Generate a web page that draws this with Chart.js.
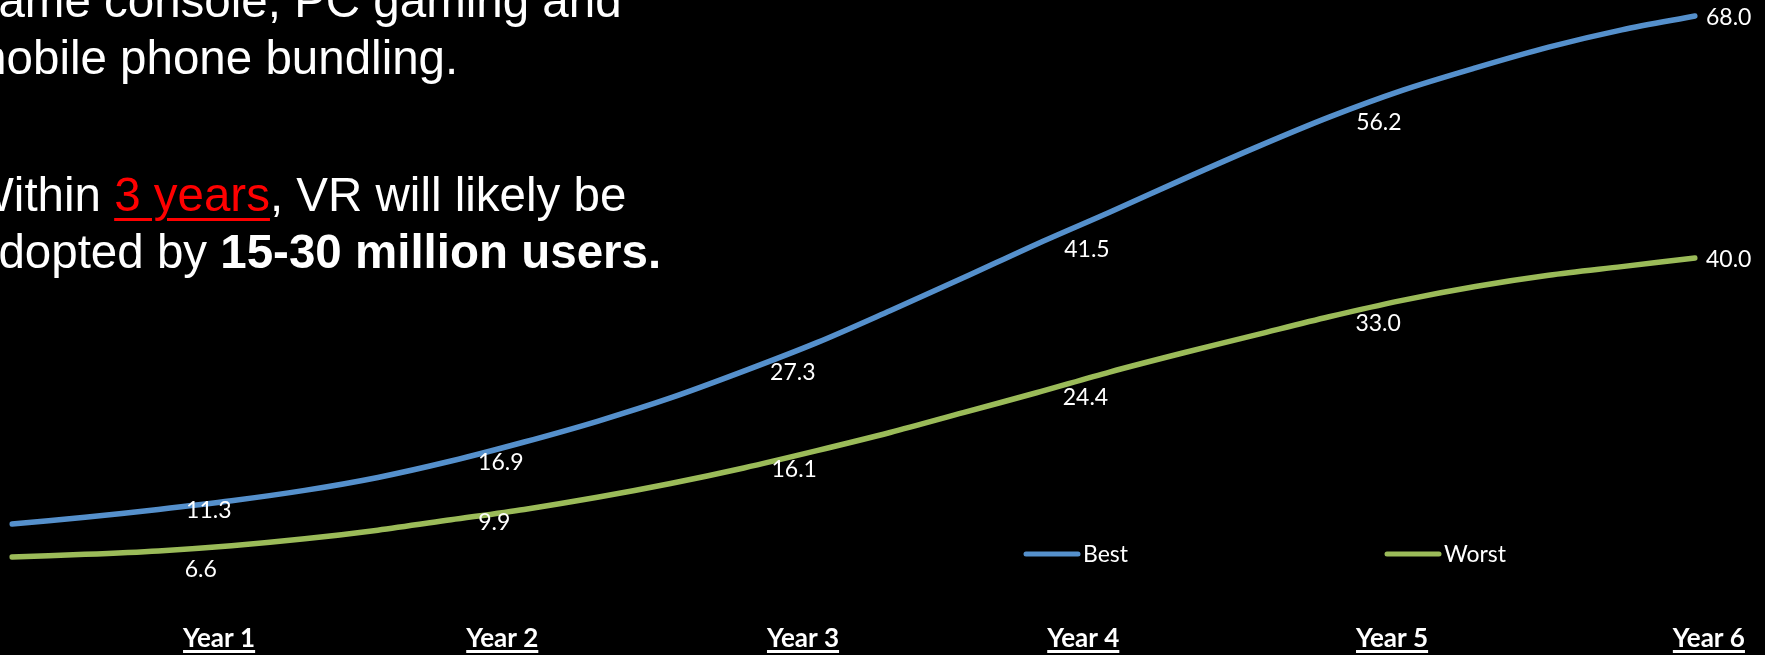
<!DOCTYPE html>
<html>
<head>
<meta charset="utf-8">
<script src="https://cdn.jsdelivr.net/npm/chart.js@4.4.0/dist/chart.umd.min.js"></script>
<style>
  html, body { margin: 0; padding: 0; background: #000; overflow: hidden; }
  #wrap { position: relative; width: 1765px; height: 655px; }
  #chart { position: absolute; left: 0; top: 0; }
  .txt { position: absolute; color: #fff; font-family: "Liberation Sans", Arial, sans-serif;
         font-size: 47.5px; line-height: 57px; white-space: nowrap; margin: 0; }
  .red { color: #ff0000; text-decoration: underline; text-decoration-thickness: 3px; text-underline-offset: 7px; }
</style>
</head>
<body>
<div id="wrap">
  <canvas id="chart" width="1765" height="655"></canvas>
  <div class="txt" style="left:-28px; top:-28px;">game console, PC gaming and</div>
  <div class="txt" style="left:-33px; top:29px;">mobile phone bundling.</div>
  <div class="txt" style="left:-31px; top:166px;">Within <span class="red">3 years</span>, VR will likely be</div>
  <div class="txt" style="left:-28px; top:223px;">adopted by <b>15-30 million users.</b></div>
</div>
<script>
// quarterly points, Year 1 Q1 .. Year 6 Q4
const quarters = ['Y1Q1','Y1Q2','Y1Q3','Y1Q4','Y2Q1','Y2Q2','Y2Q3','Y2Q4',
                  'Y3Q1','Y3Q2','Y3Q3','Y3Q4','Y4Q1','Y4Q2','Y4Q3','Y4Q4',
                  'Y5Q1','Y5Q2','Y5Q3','Y5Q4','Y6Q1','Y6Q2','Y6Q3','Y6Q4'];
const best  = [9.2, 10.0, 10.9, 11.9, 13.1, 14.6, 16.5, 18.7, 21.1, 23.8, 26.9, 30.2,
               33.9, 37.7, 41.6, 45.3, 49.1, 52.8, 56.3, 59.4, 62.0, 64.4, 66.4, 68.0];
const worst = [5.4, 5.7, 6.1, 6.7, 7.5, 8.5, 9.7, 10.9, 12.3, 13.9, 15.7, 17.7,
               19.8, 22.1, 24.4, 26.8, 29.0, 31.1, 33.2, 35.1, 36.7, 38.0, 39.0, 40.0];

// data labels shown on the chart (value, position along the quarter axis)
const bestLabels    = [11.3, 16.9, 27.3, 41.5, 56.2, 68.0];
const bestLabelAt   = [2.69, 6.68, 10.67, 14.69, 18.68, 23];
const worstLabels   = [6.6, 9.9, 16.1, 24.4, 33.0, 40.0];
const worstLabelAt  = [2.58, 6.59, 10.69, 14.67, 18.67, 23];

const years   = ['Year 1', 'Year 2', 'Year 3', 'Year 4', 'Year 5', 'Year 6'];
const yearAt  = [2.83, 6.70, 10.81, 14.64, 18.86, 23.19];

const BLUE = '#5590cc', GREEN = '#9bbb59';
const LABEL_FONT = '23px Lato, "Open Sans", sans-serif';

const overlay = {
  id: 'overlay',
  afterDatasetsDraw(chart) {
    const { ctx, scales: { x, y } } = chart;
    ctx.save();
    ctx.fillStyle = '#fff';
    ctx.font = LABEL_FONT;
    ctx.textBaseline = 'middle';
    const last = quarters.length - 1;
    const drawSet = (vals, at, dropFirst) => {
      vals.forEach((v, i) => {
        const px = x.getPixelForValue(at[i]);
        const py = y.getPixelForValue(v);
        if (at[i] === last) {
          ctx.textAlign = 'left';
          ctx.fillText(v.toFixed(1), px + 11, py + 2);
        } else {
          ctx.textAlign = 'center';
          ctx.fillText(v.toFixed(1), px, py + (i === 0 ? dropFirst : 5));
        }
      });
    };
    drawSet(bestLabels, bestLabelAt, 5);
    drawSet(worstLabels, worstLabelAt, 23);

    // year captions, bold + underlined
    ctx.font = 'bold 26px Lato, "Open Sans", sans-serif';
    ctx.textAlign = 'center';
    ctx.textBaseline = 'alphabetic';
    years.forEach((t, i) => {
      const px = x.getPixelForValue(yearAt[i]);
      const w = ctx.measureText(t).width;
      ctx.fillText(t, px, 647);
      ctx.fillRect(px - w / 2, 650, w, 3);
    });

    // legend, spread out like the original
    ctx.font = LABEL_FONT;
    ctx.textAlign = 'left';
    ctx.textBaseline = 'middle';
    ctx.lineCap = 'round';
    ctx.lineWidth = 5;
    const items = [{ ds: 0, x0: 1026 }, { ds: 1, x0: 1387 }];
    items.forEach(it => {
      const ds = chart.data.datasets[it.ds];
      ctx.strokeStyle = ds.borderColor;
      ctx.beginPath();
      ctx.moveTo(it.x0, 554);
      ctx.lineTo(it.x0 + 52, 554);
      ctx.stroke();
      ctx.fillText(ds.label, it.x0 + 57, 555);
    });
    ctx.restore();
  }
};

new Chart(document.getElementById('chart'), {
  type: 'line',
  data: {
    labels: quarters,
    datasets: [
      { label: 'Best', data: best, borderColor: BLUE, borderWidth: 5.5, pointRadius: 0,
        tension: 0.3, borderCapStyle: 'round', borderJoinStyle: 'round' },
      { label: 'Worst', data: worst, borderColor: GREEN, borderWidth: 5.5, pointRadius: 0,
        tension: 0.3, borderCapStyle: 'round', borderJoinStyle: 'round' }
    ]
  },
  options: {
    responsive: false,
    animation: false,
    devicePixelRatio: 1,
    layout: { padding: { left: 12, right: 70, top: 0, bottom: 0 } },
    scales: {
      x: { display: false, offset: false },
      y: { display: false, min: -5.95, max: 69.86 }
    },
    plugins: { legend: { display: false }, tooltip: { enabled: false } }
  },
  plugins: [overlay]
});
</script>
</body>
</html>
